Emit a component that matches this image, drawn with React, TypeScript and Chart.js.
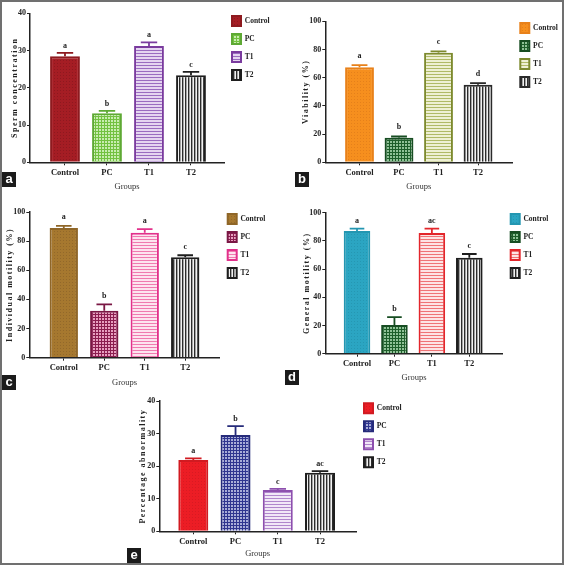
import React, { useEffect, useRef } from 'react';
import { Chart, registerables } from 'chart.js';

Chart.register(...registerables);

// ---------- data ----------
const groups = ['Control', 'PC', 'T1', 'T2'];

// (a) sperm concentration
const concentrationTicks = [0, 10, 20, 30, 40];
const spermConcentration = [28.5, 13.2, 31.2, 23.4];
const spermConcentrationSem = [0.9, 0.6, 1.0, 0.9];
const spermConcentrationLetters = ['a', 'b', 'a', 'c'];

// (b) viability
const percentTicks = [0, 20, 40, 60, 80, 100];
const viability = [67.4, 17.4, 77.7, 55.0];
const viabilitySem = [1.5, 0.9, 1.0, 1.2];
const viabilityLetters = ['a', 'b', 'c', 'd'];

// (c) individual motility
const individualMotility = [89.0, 32.3, 85.8, 68.9];
const individualMotilitySem = [1.5, 4.3, 2.5, 1.4];
const individualMotilityLetters = ['a', 'b', 'a', 'c'];

// (d) general motility
const generalMotility = [87.0, 20.4, 85.6, 68.1];
const generalMotilitySem = [1.7, 5.6, 3.1, 2.6];
const generalMotilityLetters = ['a', 'b', 'ac', 'c'];

// (e) percentage abnormality
const abnormalityTicks = [0, 10, 20, 30, 40];
const abnormality = [21.9, 29.6, 12.7, 18.0];
const abnormalitySem = [0.5, 2.7, 0.3, 0.5];
const abnormalityLetters = ['a', 'b', 'c', 'ac'];

// ---------- styling ----------
const SERIF = '"Liberation Serif", "Times New Roman", serif';
const INK = '#222222';
const LEGEND_W = 50;

function makePattern(kind: string, bg: string, fg: string): any {
  const c = document.createElement('canvas');
  const g = c.getContext('2d');
  if (!g) return bg;
  if (kind === 'dots') {
    c.width = 3; c.height = 3;
    g.fillStyle = bg; g.fillRect(0, 0, 3, 3);
    g.fillStyle = fg; g.fillRect(1, 1, 1, 1);
  } else if (kind === 'grid') {
    c.width = 3; c.height = 3;
    g.fillStyle = bg; g.fillRect(0, 0, 3, 3);
    g.fillStyle = fg; g.fillRect(1, 1, 2, 2);
  } else if (kind === 'hstripes') {
    c.width = 1; c.height = 3;
    g.fillStyle = bg; g.fillRect(0, 0, 1, 3);
    g.fillStyle = fg; g.fillRect(0, 0, 1, 1);
  } else {
    c.width = 3; c.height = 1;
    g.fillStyle = '#f2f2f2'; g.fillRect(0, 0, 3, 1);
    g.fillStyle = fg; g.fillRect(0, 0, 1, 1);
    g.fillStyle = bg; g.fillRect(1, 0, 1, 1);
  }
  return g.createPattern(c, 'repeat') || bg;
}

const GRAY_STRIPES = ['vstripes', '#a4a4a4', '#2c2c2c'];

const panels: any[] = [
  {
    tag: 'a', values: spermConcentration, sem: spermConcentrationSem, letters: spermConcentrationLetters,
    ticks: concentrationTicks, yTitle: 'Sperm concentration',
    fills: [['dots', '#a51d24', '#8e181f'], ['grid', '#72c140', '#c8ecb0'], ['hstripes', '#e5d5f0', '#9a6cc0'], GRAY_STRIPES],
    borders: ['#8e1a1f', '#5ea934', '#7a3b9e', '#1e1e1e'],
    geo: { L: 2, T: 2, W: 274, H: 196, axisX: 30, axisEnd: 224, yTop: 13.3, yBottom: 162.3, legendTop: 16, yTitleX: 14.7, xTitleY: 187, min: -0.833, max: 3.786, barPct: 0.71, letterGap: 5 },
    box: { x: 2, y: 172 },
  },
  {
    tag: 'b', values: viability, sem: viabilitySem, letters: viabilityLetters,
    ticks: percentTicks, yTitle: 'Viability (%)',
    fills: [['dots', '#f68f1e', '#e5801a'], ['grid', '#1d5e2a', '#8fc196'], ['hstripes', '#eef0d3', '#b0ba66'], GRAY_STRIPES],
    borders: ['#e8811a', '#174d22', '#7d8a2e', '#2a2a2a'],
    geo: { L: 284, T: 2, W: 279, H: 196, axisX: 325.3, axisEnd: 512.3, yTop: 21.3, yBottom: 162.3, legendTop: 23, yTitleX: 306, xTitleY: 186.7, min: -0.866, max: 3.868, barPct: 0.73, letterGap: 7 },
    box: { x: 295, y: 172 },
  },
  {
    tag: 'c', values: individualMotility, sem: individualMotilitySem, letters: individualMotilityLetters,
    ticks: percentTicks, yTitle: 'Individual motility (%)',
    fills: [['dots', '#a6782f', '#92682a'], ['grid', '#8b1d4f', '#e8a0c0'], ['hstripes', '#fde4ef', '#f07bb0'], GRAY_STRIPES],
    borders: ['#8f6628', '#7a1744', '#e2318b', '#1e1e1e'],
    geo: { L: 2, T: 200, W: 270, H: 192, axisX: 29.3, axisEnd: 219.7, yTop: 212, yBottom: 357.7, legendTop: 214, yTitleX: 10, xTitleY: 382.7, min: -0.852, max: 3.852, barPct: 0.70, letterGap: 6.5 },
    box: { x: 2, y: 375 },
  },
  {
    tag: 'd', values: generalMotility, sem: generalMotilitySem, letters: generalMotilityLetters,
    ticks: percentTicks, yTitle: 'General motility (%)',
    fills: [['dots', '#2ba5c2', '#2597b2'], ['grid', '#1d5e2a', '#8fc196'], ['hstripes', '#fde4e4', '#ef7476'], GRAY_STRIPES],
    borders: ['#2396b1', '#174d22', '#e3262b', '#1e1e1e'],
    geo: { L: 284, T: 200, W: 271, H: 192, axisX: 325.3, axisEnd: 502.7, yTop: 212.7, yBottom: 353.7, legendTop: 214, yTitleX: 306.7, xTitleY: 378, min: -0.847, max: 3.892, barPct: 0.71, letterGap: 6 },
    box: { x: 285, y: 370 },
  },
  {
    tag: 'e', values: abnormality, sem: abnormalitySem, letters: abnormalityLetters,
    ticks: abnormalityTicks, yTitle: 'Percentage abnormality',
    fills: [['dots', '#ec1d25', '#d81a22'], ['grid', '#2f3590', '#a9add8'], ['hstripes', '#f1e7f7', '#b086cc'], GRAY_STRIPES],
    borders: ['#d11a21', '#262b7a', '#8d4fae', '#1e1e1e'],
    geo: { L: 134, T: 393, W: 274, H: 168, axisX: 159.3, axisEnd: 356, yTop: 401, yBottom: 531.3, legendTop: 403.3, yTitleX: 143.3, xTitleY: 553.3, min: -0.805, max: 3.852, barPct: 0.71, letterGap: 5 },
    box: { x: 127, y: 548 },
  },
];

// error bars (mean + SEM) and significance letters
const errorBarsPlugin: any = {
  id: 'errorBars',
  beforeDraw(chart: any) {
    chart.ctx.letterSpacing = '0px';
  },
  afterDatasetsDraw(chart: any, _args: any, opts: any) {
    const ctx = chart.ctx;
    const yScale = chart.scales.y;
    ctx.save();
    chart.data.datasets.forEach((ds: any, i: number) => {
      const bar = chart.getDatasetMeta(i).data[0];
      if (!bar) return;
      const v = ds.data[0].y;
      const capY = yScale.getPixelForValue(v + opts.sem[i]);
      const half = (bar.width * 0.55) / 2;
      ctx.strokeStyle = ds.borderColor;
      ctx.lineWidth = 1.8;
      ctx.beginPath();
      ctx.moveTo(bar.x, bar.y);
      ctx.lineTo(bar.x, capY);
      ctx.moveTo(bar.x - half, capY);
      ctx.lineTo(bar.x + half, capY);
      ctx.stroke();
      ctx.fillStyle = INK;
      ctx.font = `bold 8px ${SERIF}`;
      ctx.textAlign = 'center';
      ctx.textBaseline = 'alphabetic';
      ctx.fillText(opts.letters[i], bar.x, capY - opts.gap);
    });
    ctx.restore();
    ctx.letterSpacing = '1.5px';
  },
};

function buildConfig(spec: any): any {
  const g = spec.geo;
  const yWidth = g.axisX - g.L;
  const yTitlePad = g.yTitleX - g.L - 4.8;
  const pt = g.legendTop - 8 - g.T;
  const titleH = g.yTop - g.T - pt;
  const xBottom = g.xTitleY + 5.1 + 2;
  const xHeight = xBottom - g.yBottom;
  const pb = g.T + g.H - xBottom;
  const pr = g.L + g.W - g.axisEnd - LEGEND_W;
  const ticks = spec.ticks;

  const datasets = groups.map((name, i) => ({
    label: name,
    data: [{ x: i, y: spec.values[i] }],
    backgroundColor: makePattern(spec.fills[i][0], spec.fills[i][1], spec.fills[i][2]),
    borderColor: spec.borders[i],
    borderWidth: 2,
    borderSkipped: 'start',
  }));

  return {
    type: 'bar',
    data: { datasets },
    plugins: [errorBarsPlugin],
    options: {
      responsive: false,
      animation: false,
      events: [],
      datasets: { bar: { grouped: false, categoryPercentage: 1, barPercentage: g.barPct } },
      layout: { padding: { left: 0, top: pt, right: pr, bottom: pb } },
      scales: {
        x: {
          type: 'linear',
          min: g.min,
          max: g.max,
          bounds: 'data',
          offset: false,
          afterBuildTicks: (s: any) => { s.ticks = groups.map((_, i) => ({ value: i })); },
          afterFit: (s: any) => { s.height = xHeight; },
          grid: { offset: false, drawOnChartArea: false, drawTicks: true, tickLength: 3, tickColor: INK, lineWidth: 1 },
          border: { display: true, color: INK, width: 1.5, z: 2 },
          ticks: {
            autoSkip: false, maxRotation: 0, padding: 2, color: INK,
            font: { family: SERIF, size: 8.5, weight: 'bold' },
            callback: (v: any) => groups[v] ?? '',
          },
          title: {
            display: true, text: 'Groups', color: '#333',
            font: { family: SERIF, size: 8.5 },
            padding: { top: 0, bottom: 2 },
          },
        },
        y: {
          min: ticks[0],
          max: ticks[ticks.length - 1],
          afterFit: (s: any) => { s.width = yWidth; },
          grid: { drawOnChartArea: false, drawTicks: true, tickLength: 3, tickColor: INK, lineWidth: 1, z: 1 },
          border: { display: true, color: INK, width: 1.5, z: 2 },
          ticks: { stepSize: ticks[1] - ticks[0], padding: 1, color: INK, font: { family: SERIF, size: 8, weight: 'bold' } },
          title: {
            display: true, text: spec.yTitle, color: INK,
            font: { family: SERIF, size: 8, weight: 'bold' },
            padding: { top: yTitlePad, bottom: 0 },
          },
        },
      },
      plugins: {
        legend: {
          position: 'right',
          align: 'start',
          maxWidth: LEGEND_W,
          labels: {
            boxWidth: 9, boxHeight: 10, padding: 8, color: INK,
            font: { family: SERIF, size: 7.5, weight: 'bold' },
          },
        },
        title: { display: true, text: '', padding: { top: titleH - 1, bottom: 0 }, font: { size: 1, lineHeight: 1 } },
        tooltip: { enabled: false },
        errorBars: { sem: spec.sem, letters: spec.letters, gap: g.letterGap },
      },
    },
  };
}

function Panel({ spec }: { spec: any }) {
  const ref = useRef<HTMLCanvasElement | null>(null);
  useEffect(() => {
    if (!ref.current) return;
    const chart = new Chart(ref.current, buildConfig(spec));
    return () => chart.destroy();
  }, [spec]);
  const g = spec.geo;
  return (
    <canvas
      ref={ref}
      width={g.W}
      height={g.H}
      style={{ position: 'absolute', left: g.L, top: g.T, width: g.W, height: g.H }}
    />
  );
}

export default function App() {
  return (
    <div style={{ position: 'fixed', left: 0, top: 0, width: 564, height: 565, background: '#fff', overflow: 'hidden' }}>
      {panels.map((p) => (
        <Panel key={p.tag} spec={p} />
      ))}
      {panels.map((p) => (
        <div
          key={'box-' + p.tag}
          style={{
            position: 'absolute', left: p.box.x, top: p.box.y, width: 14, height: 15,
            background: '#1b1b1b', color: '#fff', fontFamily: '"Liberation Sans", Arial, sans-serif',
            fontWeight: 'bold', fontSize: 13, lineHeight: '14px', textAlign: 'center',
          }}
        >
          {p.tag}
        </div>
      ))}
      <div
        style={{
          position: 'absolute', left: 0, top: 0, width: 564, height: 565, boxSizing: 'border-box',
          border: '2px solid #707070', pointerEvents: 'none',
        }}
      />
    </div>
  );
}
